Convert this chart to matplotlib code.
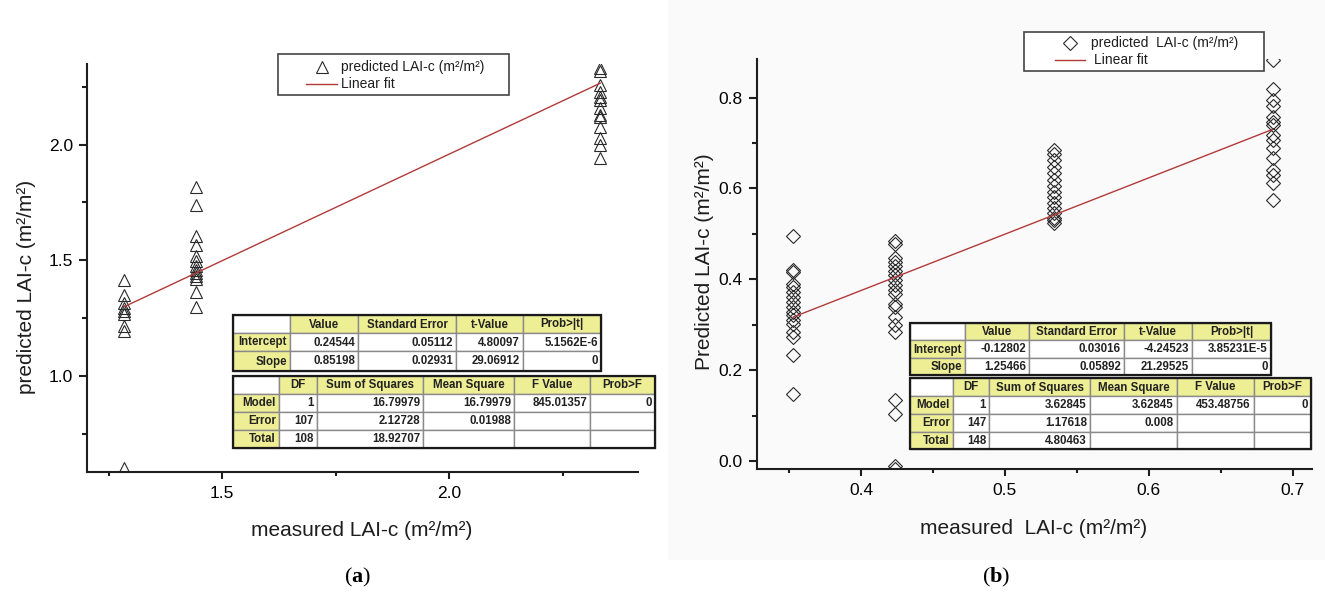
import numpy as np
import matplotlib
matplotlib.use('Agg')
import matplotlib.pyplot as plt
from matplotlib.patches import Rectangle
from matplotlib.lines import Line2D
from matplotlib.transforms import Affine2D
from matplotlib.ticker import MultipleLocator, FormatStrFormatter

plt.rcParams['font.family'] = ['Liberation Sans', 'DejaVu Sans']
plt.rcParams['mathtext.fontset'] = 'custom'
plt.rcParams['mathtext.rm'] = 'Liberation Serif'
plt.rcParams['mathtext.bf'] = 'Liberation Serif:bold'

# ---- data (a) ----
a_measured = [1.284, 1.442, 2.333]
a_predicted = [
    [1.417, 1.352, 1.316, 1.295, 1.280, 1.270, 1.216, 1.194, 0.605],
    [1.815, 1.740, 1.606, 1.565, 1.520, 1.496, 1.474, 1.460, 1.446, 1.431, 1.420, 1.364, 1.300],
    [2.330, 2.318, 2.257, 2.228, 2.207, 2.192, 2.157, 2.128, 2.118, 2.075, 2.028, 1.999, 1.941],
]
a_fit_x = [1.284, 2.333]
a_fit_y = [1.300, 2.265]

# ---- data (b) ----
b_measured = [0.353, 0.4234, 0.534, 0.686]
b_predicted = [
    [0.495, 0.421, 0.416, 0.390, 0.383, 0.372, 0.361, 0.350, 0.339, 0.328, 0.321, 0.310, 0.302,
     0.284, 0.273, 0.233, 0.148],
    [0.484, 0.477, 0.446, 0.438, 0.429, 0.418, 0.409, 0.398, 0.387, 0.377, 0.367, 0.346, 0.338,
     0.317, 0.299, 0.284, 0.135, 0.104, -0.012, -0.018],
    [0.684, 0.675, 0.662, 0.647, 0.633, 0.618, 0.605, 0.592, 0.581, 0.568, 0.556, 0.546, 0.536,
     0.530, 0.523],
    [0.882, 0.820, 0.794, 0.781, 0.757, 0.746, 0.739, 0.717, 0.706, 0.688, 0.666, 0.640, 0.629,
     0.611, 0.575],
]
b_fit_x = [0.353, 0.686]
b_fit_y = [0.317, 0.730]

# ---- tables ----
coef_header = ["", "Value", "Standard Error", "t-Value", "Prob>|t|"]
anova_header = ["", "DF", "Sum of Squares", "Mean Square", "F Value", "Prob>F"]
a_coef_rows = [["Intercept", "0.24544", "0.05112", "4.80097", "5.1562E-6"],
               ["Slope", "0.85198", "0.02931", "29.06912", "0"]]
a_anova_rows = [["Model", "1", "16.79979", "16.79979", "845.01357", "0"],
                ["Error", "107", "2.12728", "0.01988", "", ""],
                ["Total", "108", "18.92707", "", "", ""]]
b_coef_rows = [["Intercept", "-0.12802", "0.03016", "-4.24523", "3.85231E-5"],
               ["Slope", "1.25466", "0.05892", "21.29525", "0"]]
b_anova_rows = [["Model", "1", "3.62845", "3.62845", "453.48756", "0"],
                ["Error", "147", "1.17618", "0.008", "", ""],
                ["Total", "148", "4.80463", "", "", ""]]

W, H = 1325, 592
fig = plt.figure(figsize=(W / 100, H / 100), dpi=100)
px = Affine2D().scale(1 / W, -1 / H).translate(0, 1) + fig.transFigure

# faint grey scan background of panel (b)
fig.add_artist(Rectangle((668, 0), W - 668, 560, transform=px, fc='#fafafa', ec='none', zorder=-2))

def axes_px(x0, y0, x1, y1):
    return fig.add_axes([x0 / W, 1 - y1 / H, (x1 - x0) / W, (y1 - y0) / H])

ink = '#1e1e1e'
red = '#b23a3a'

def style(ax, xmaj, xmin, ymaj, ymin):
    ax.set_facecolor('none')
    for s in ['top', 'right']:
        ax.spines[s].set_visible(False)
    for s in ['left', 'bottom']:
        ax.spines[s].set_linewidth(1.5)
        ax.spines[s].set_color(ink)
    ax.xaxis.set_major_locator(MultipleLocator(xmaj))
    ax.xaxis.set_minor_locator(MultipleLocator(xmin))
    ax.yaxis.set_major_locator(MultipleLocator(ymaj))
    ax.yaxis.set_minor_locator(MultipleLocator(ymin))
    ax.xaxis.set_major_formatter(FormatStrFormatter('%.1f'))
    ax.yaxis.set_major_formatter(FormatStrFormatter('%.1f'))
    ax.tick_params(which='major', axis='x', length=5, width=1.5, color=ink, labelsize=12.5, pad=5)
    ax.tick_params(which='minor', axis='x', length=3, width=1.5, color=ink)
    ax.tick_params(which='major', axis='y', length=6, width=1.5, color=ink, labelsize=12.5, pad=4)
    ax.tick_params(which='minor', axis='y', length=3.6, width=1.5, color=ink)

# ---- panel (a) ----
ax1 = axes_px(86.7, 64, 637.7, 472.3)
for xm, ys in zip(a_measured, a_predicted):
    ax1.plot([xm] * len(ys), ys, ls='none', marker='^', ms=9, mfc='none', mec='#2a2a2a', mew=0.8)
ax1.plot(a_fit_x, a_fit_y, color=red, lw=1.0)
ax1.set_xlim(1.2013, 2.4157)
ax1.set_ylim(0.585, 2.348)
style(ax1, 0.5, 0.25, 0.5, 0.25)

# ---- panel (b) ----
ax2 = axes_px(756.7, 59.3, 1311.7, 469.3)
for xm, ys in zip(b_measured, b_predicted):
    ax2.plot([xm] * len(ys), ys, ls='none', marker='D', ms=7, mfc='none', mec='#2a2a2a', mew=0.8)
ax2.plot(b_fit_x, b_fit_y, color=red, lw=1.0)
ax2.set_xlim(0.3275, 0.7132)
ax2.set_ylim(-0.0183, 0.8843)
style(ax2, 0.1, 0.05, 0.2, 0.1)

# axis titles
fig.text(27, 287, 'predicted LAI-c (m²/m²)', transform=px, rotation=90, ha='center', va='center',
         fontsize=15, color=ink)
fig.text(362, 530, 'measured LAI-c (m²/m²)', transform=px, ha='center', va='center', fontsize=15, color=ink)
fig.text(704, 262, 'Predicted LAI-c (m²/m²)', transform=px, rotation=90, ha='center', va='center',
         fontsize=15, color=ink)
fig.text(1034, 528, 'measured  LAI-c (m²/m²)', transform=px, ha='center', va='center', fontsize=15, color=ink)

# captions
for xc, letter in [(358, 'a'), (996, 'b')]:
    fig.text(xc, 577, '($\\mathbf{%s}$)' % letter, transform=px, ha='center', va='center',
             fontsize=16, family='Liberation Serif', color='black')

# legends
def legend(box, mk_xy, marker, ms, line_x, line_y, label1, text_x):
    x0, y0, x1, y1 = box
    fig.add_artist(Rectangle((x0, y0), x1 - x0, y1 - y0, transform=px, fc='white', ec='#444444', lw=1.2, zorder=4))
    fig.add_artist(Line2D([mk_xy[0]], [mk_xy[1]], transform=px, marker=marker, ms=ms, mfc='none',
                          mec='#2a2a2a', mew=0.8, ls='none', zorder=5))
    fig.add_artist(Line2D(line_x, [line_y, line_y], transform=px, color=red, lw=1.0, zorder=5))
    fig.text(text_x[0], mk_xy[1], label1, transform=px, ha='left', va='center', fontsize=10, color=ink, zorder=5)
    fig.text(text_x[1], line_y, 'Linear fit', transform=px, ha='left', va='center', fontsize=10, color=ink, zorder=5)

legend((278, 54, 509, 95), (322, 66.7), '^', 9, [306, 337], 84.3, 'predicted LAI-c (m²/m²)', (341, 341))
legend((1024, 32, 1264, 71), (1070, 43.3), 'D', 7, [1054.5, 1085], 60, 'predicted  LAI-c (m²/m²)', (1091, 1094))

# statistics tables
yellow = '#eeee94'

def draw_table(cols, rows, header, body):
    for r in range(len(rows) - 1):
        cells = header if r == 0 else body[r - 1]
        for c in range(len(cols) - 1):
            x0, x1 = cols[c], cols[c + 1]
            y0, y1 = rows[r], rows[r + 1]
            fc = yellow if (r == 0) != (c == 0) else 'white'
            fig.add_artist(Rectangle((x0, y0), x1 - x0, y1 - y0, transform=px, fc=fc, ec='#8a8a8a',
                                     lw=1.0, zorder=6))
            txt = cells[c]
            if not txt:
                continue
            ym = (y0 + y1) / 2 + 0.5
            if r == 0:
                fig.text((x0 + x1) / 2, ym, txt, transform=px, ha='center', va='center', fontsize=8.3,
                         fontweight='bold', color='#222222', zorder=7)
            else:
                fig.text(x1 - 3, ym, txt, transform=px, ha='right', va='center', fontsize=8.3,
                         fontweight='bold', color='#222222', zorder=7)
    fig.add_artist(Rectangle((cols[0], rows[0]), cols[-1] - cols[0], rows[-1] - rows[0], transform=px,
                             fill=False, ec='#1a1a1a', lw=1.6, zorder=8))

draw_table([233, 290, 358, 456, 523, 601], [315, 333, 351, 371], coef_header, a_coef_rows)
draw_table([233, 279, 317, 423, 514, 590, 655], [376, 393.5, 411.5, 430, 448], anova_header, a_anova_rows)
draw_table([910, 965, 1029, 1124, 1192, 1271], [323, 340, 358, 375], coef_header, b_coef_rows)
draw_table([910, 953, 989, 1090, 1177, 1254, 1311], [378, 396, 414, 432, 449], anova_header, b_anova_rows)

fig.savefig('out.png', dpi=100)
